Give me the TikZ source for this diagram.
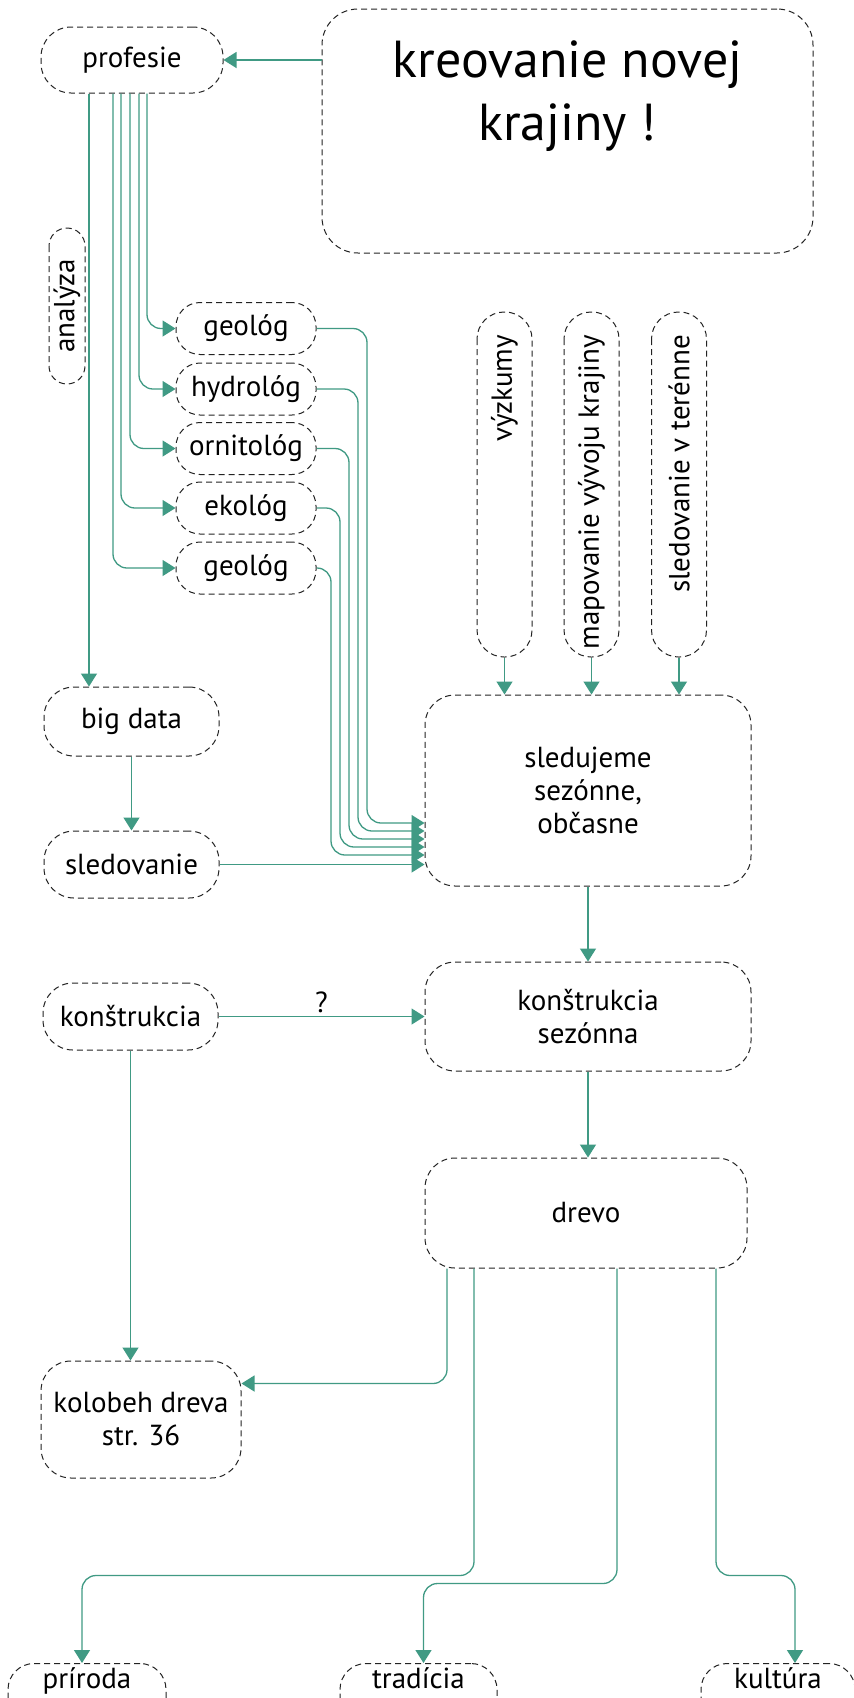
\documentclass[tikz,border=0pt]{standalone}
\usepackage{fontspec}
\setmainfont{PT Sans}
\usetikzlibrary{arrows.meta,calc}
\definecolor{tealline}{RGB}{64,154,132}
\definecolor{boxgray}{RGB}{35,35,35}
\newcommand\mfs{\fontsize{29}{33}\selectfont}
\newcommand\tfs{\fontsize{52}{63}\selectfont}
\newcommand\vtext[1]{\makebox[299pt][r]{#1}}
\begin{document}
\begin{tikzpicture}[x=1pt,y=-1pt,
  box/.style={draw=boxgray, line width=1pt, dash pattern=on 6pt off 4pt,
    rounded corners=#1, inner sep=0pt, align=center, font=\mfs, text=black},
  box/.default=28pt,
  geobox/.style={box=24pt, minimum width=140pt, minimum height=52pt},
  vertbox/.style={box=27pt, rotate=90, minimum width=345pt, minimum height=55pt},
  bottombox/.style={box=26pt, anchor=north, inner ysep=4pt, text height=21pt, text depth=45pt},
  conn/.style={draw=tealline, line width=1.3pt, rounded corners=14pt,
    -{Triangle[length=13pt,width=16pt,fill=tealline]}}
]
\fill[white] (0,0) rectangle (854,1698);
\useasboundingbox (0,0) rectangle (854,1698);
\clip (0,0) rectangle (854,1698);

% nodes
\node[box=30pt, minimum width=182pt, minimum height=66pt] (prof) at (132,60) {profesie};
\node[box=36pt, minimum width=491pt, minimum height=244pt] (kreo) at (567.5,131) {};
\node[font=\tfs, align=center, inner sep=0pt] (kreot) at (567.5,96) {kreovanie novej\\krajiny !};
\node[box=18pt, rotate=90, minimum width=156pt, minimum height=36pt] (anal) at (67,306) {analýza};

\node[geobox] (geo1) at (246,328.5) {geológ};
\node[geobox] (hyd) at (246,389) {hydrológ};
\node[geobox] (orn) at (246,448.5) {ornitológ};
\node[geobox] (eko) at (246,508) {ekológ};
\node[geobox] (geo2) at (246,568) {geológ};

\node[vertbox] (vyz) at (504.5,484.5) {\vtext{výzkumy}};
\node[vertbox] (mapo) at (591.5,484.5) {\vtext{mapovanie vývoju krajiny}};
\node[vertbox] (sledt) at (679,484.5) {\vtext{sledovanie v terénne}};

\node[box=30pt, minimum width=326pt, minimum height=191pt] (sled) at (588,790.5) {sledujeme\\sezónne,\\občasne};
\node[box=30pt, minimum width=175pt, minimum height=69pt] (bigdata) at (131.5,721.5) {big data};
\node[box=30pt, minimum width=175pt, minimum height=67pt] (sledov) at (131.5,864.5) {sledovanie};
\node[box=30pt, minimum width=175pt, minimum height=67pt] (konst) at (130.5,1016.5) {konštrukcia};
\node[box=30pt, minimum width=326pt, minimum height=109pt] (konsez) at (588,1016.5) {konštrukcia\\sezónna};
\node[box=30pt, minimum width=322pt, minimum height=110pt] (drevo) at (586,1213) {drevo};
\node[box=30pt, minimum width=200pt, minimum height=117pt] (kolobeh) at (141,1419.5) {kolobeh dreva\\str. 36};

\node[bottombox, minimum width=158pt] (priroda) at (87,1663) {príroda};
\node[bottombox, minimum width=157pt] (tradicia) at (418.5,1663) {tradícia};
\node[bottombox, minimum width=154pt] (kultura) at (778,1663) {kultúra};

% connectors
\draw[conn] (kreo.west |- prof.east) -- (prof.east);
\coordinate (pA) at ([xshift=-43pt]prof.south);
\draw[conn] (pA) -- (pA |- bigdata.north);
\draw[conn] ([xshift=15pt]prof.south) |- (geo1.west);
\draw[conn] ([xshift=7pt]prof.south) |- (hyd.west);
\draw[conn] ([xshift=-2pt]prof.south) |- (orn.west);
\draw[conn] ([xshift=-11pt]prof.south) |- (eko.west);
\draw[conn] ([xshift=-19pt]prof.south) |- (geo2.west);

\draw[conn] (geo1.east) -| (367,823) -- (sled.west |- 0,823);
\draw[conn] (hyd.east) -| (358,831) -- (sled.west |- 0,831);
\draw[conn] (orn.east) -| (349,839) -- (sled.west |- 0,839);
\draw[conn] (eko.east) -| (340,847) -- (sled.west |- 0,847);
\draw[conn] (geo2.east) -| (331,855) -- (sled.west |- 0,855);

\draw[conn] (bigdata.south) -- (sledov.north);
\draw[conn] (sledov.east) -- (sled.west |- sledov.east);

\draw[conn] (vyz.west) -- (vyz.west |- sled.north);
\draw[conn] (mapo.west) -- (mapo.west |- sled.north);
\draw[conn] (sledt.west) -- (sledt.west |- sled.north);

\draw[conn] (sled.south) -- (sled.south |- konsez.north);
\draw[conn] (konst.east) -- node[midway, above, inner sep=3pt, font=\mfs, text=black] (q) {?} (konsez.west |- konst.east);
\draw[conn] (konsez.south) -- (konsez.south |- drevo.north);
\draw[conn] (konst.south) -- (konst.south |- kolobeh.north);
\draw[conn] ([xshift=-139pt]drevo.south) |- ([yshift=36pt]kolobeh.east);
\draw[conn] ([xshift=-112pt]drevo.south) -- ++(0,307) -| ([xshift=-5pt]priroda.north);
\draw[conn] ([xshift=31pt]drevo.south) -- ++(0,315) -| ([xshift=5pt]tradicia.north);
\draw[conn] ([xshift=130pt]drevo.south) -- ++(0,307) -| ([xshift=17pt]kultura.north);
\end{tikzpicture}
\end{document}
